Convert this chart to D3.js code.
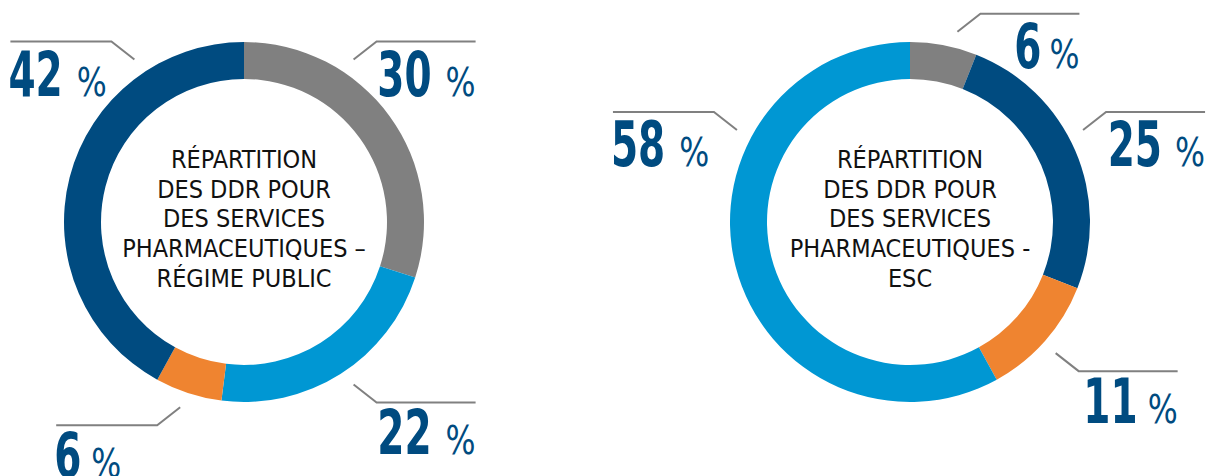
<!DOCTYPE html>
<html>
<head>
<meta charset="utf-8">
<script src="https://cdn.jsdelivr.net/npm/d3@7"></script>
<style>
  body { margin: 0; background: #fff; }
  svg { display: block; }
</style>
</head>
<body>
<div id="chart"></div>
<script>
// data
const publicCats = ["Gris", "Bleu clair", "Orange", "Bleu foncé"];
const publicValues = [30, 22, 6, 42];
const publicLabels = ["30", "22", "6", "42"];
const publicTitle = ["RÉPARTITION", "DES DDR POUR", "DES SERVICES", "PHARMACEUTIQUES –", "RÉGIME PUBLIC"];

const escCats = ["Gris", "Bleu foncé", "Orange", "Bleu clair"];
const escValues = [6, 25, 11, 58];
const escLabels = ["6", "25", "11", "58"];
const escTitle = ["RÉPARTITION", "DES DDR POUR", "DES SERVICES", "PHARMACEUTIQUES -", "ESC"];

// colours
const colour = d3.scaleOrdinal()
  .domain(["Gris", "Bleu foncé", "Orange", "Bleu clair"])
  .range(["#808080", "#004b80", "#ef8430", "#0097d3"]);

const W = 1219, H = 476;
const outerR = 180, innerR = 143;
const font = "'DejaVu Sans Condensed', 'DejaVu Sans', sans-serif";
const numScale = 0.7, pctScale = 0.9;

const svg = d3.select("#chart").append("svg")
  .attr("width", W)
  .attr("height", H);

// where each leader line leaves the ring (degrees clockwise from top)
const publicLeaders = [34, 146, 199, 326];
const escLeaders = [14, 62, 132, 298];

function donut(cx, cy, cats, values, labels, leaders, title, pctGap) {
  const g = svg.append("g").attr("transform", "translate(" + cx + "," + cy + ")");
  const data = cats.map((c, i) => ({cat: c, value: values[i], label: labels[i], lead: leaders[i]}));

  const pie = d3.pie().value(d => d.value).sort(null);
  const arc = d3.arc().innerRadius(innerR).outerRadius(outerR);

  g.selectAll(".slice")
    .data(pie(data))
    .enter().append("path")
    .attr("class", "slice")
    .attr("d", arc)
    .attr("fill", d => colour(d.data.cat));

  // leader lines and labels
  data.forEach((d, i) => {
    const a = d.lead * Math.PI / 180;
    const p0 = d3.pointRadial(a, 196);
    const right = p0[0] > 0;
    const up = p0[1] < 0;
    const p1 = [p0[0] + (right ? 23 : -23), p0[1] + (up ? -18 : 18)];
    const p2 = [p1[0] + (right ? 99 : -101), p1[1]];

    g.append("path")
      .attr("d", d3.line()([p0, p1, p2]))
      .attr("fill", "none")
      .attr("stroke", "#808080")
      .attr("stroke-width", 2);

    const y = p1[1] + (up ? 54 : 52);
    const num = g.append("text")
      .attr("fill", "#004b80")
      .style("font-family", font)
      .style("font-size", "62px")
      .style("font-weight", "bold")
      .text(d.label);
    const pct = g.append("text")
      .attr("fill", "#004b80")
      .style("font-family", font)
      .style("font-size", "39px")
      .text("%");
    const nw = num.node().getComputedTextLength() * numScale;
    const pw = pct.node().getComputedTextLength() * pctScale;

    let nx, px;
    if (right) {
      px = p2[0] - pw;
      nx = px - pctGap[i] - nw;
    } else {
      nx = p2[0] - 2;
      px = nx + nw + pctGap[i];
    }
    num.attr("transform", "translate(" + nx + "," + y + ") scale(" + numScale + ",1)");
    pct.attr("transform", "translate(" + px + "," + y + ") scale(" + pctScale + ",1)");
  });

  // centre title
  g.append("text")
    .attr("text-anchor", "middle")
    .attr("fill", "#111")
    .style("font-family", font)
    .style("font-size", "25px")
    .selectAll("tspan")
    .data(title)
    .enter().append("tspan")
    .attr("x", 0)
    .attr("y", (d, i) => -54 + i * 29.7)
    .text(d => d);
}

donut(244, 222, publicCats, publicValues, publicLabels, publicLeaders, publicTitle, [14, 14, 10, 14]);
donut(910, 222, escCats, escValues, escLabels, escLeaders, escTitle, [8, 13, 10, 14]);
</script>
</body>
</html>
